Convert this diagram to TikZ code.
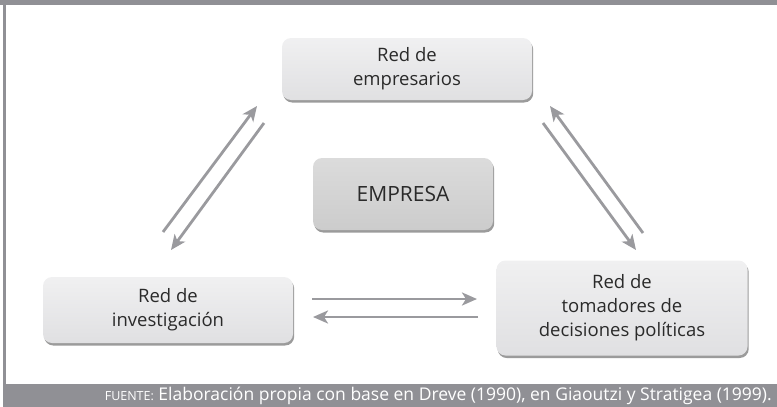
\documentclass[tikz,border=0pt]{standalone}
\usepackage{fontspec}
\setmainfont{Open Sans}
\usetikzlibrary{arrows.meta,shadows}
\definecolor{marco}{HTML}{909095}
\definecolor{flecha}{HTML}{9A9A9E}
\definecolor{cajaarriba}{HTML}{F0F0F1}
\definecolor{cajaabajo}{HTML}{E0E0E2}
\definecolor{texto}{HTML}{2A2A2A}

\begin{document}
\begin{tikzpicture}[x=1pt,y=-1pt,
    red/.style={rounded corners=9pt, top color=cajaarriba, bottom color=cajaabajo,
        drop shadow={shadow xshift=1.2pt, shadow yshift=-2.5pt, fill=black!60, opacity=0.65},
        align=center, text=texto, inner sep=0pt, font=\fontsize{18.5}{24}\selectfont},
    centro/.style={red, top color=black!14, bottom color=black!20, font=\fontsize{21}{21}\selectfont},
    flechas/.style={draw=flecha, line width=2.8pt, -{Stealth[length=15pt,width=13pt,inset=4pt]}}]
    \useasboundingbox (0,0) rectangle (777,407);
    % marco
    \fill[marco] (0,0) rectangle (777,5);
    \fill[marco] (3,5) rectangle (6,384);
    \fill[marco] (3,384) rectangle (777,407);
    % redes
    \node[red, minimum width=250pt, minimum height=62pt] (empresarios) at (407,69) {Red de\\empresarios};
    \node[centro, minimum width=180pt, minimum height=72pt] (empresa) at (403,194) {EMPRESA};
    \node[red, minimum width=250pt, minimum height=66pt] (investigacion) at (168,310) {Red de\\investigación};
    \node[red, minimum width=251pt, minimum height=95pt] (tomadores) at (622,308) {Red de\\tomadores de\\decisiones políticas};
    % extremos de las flechas
    \coordinate (i1) at (163,232); \coordinate (e1) at (257,106);
    \coordinate (e2) at (264,123); \coordinate (i2) at (171,250);
    \coordinate (t1) at (643,233); \coordinate (e3) at (550,106);
    \coordinate (e4) at (543,123); \coordinate (t2) at (636,250);
    \coordinate (i3) at (312,299); \coordinate (t3) at (477,299);
    \coordinate (t4) at (478,317); \coordinate (i4) at (313,317);
    \foreach \a/\b in {i1/e1, e2/i2, t1/e3, e4/t2, i3/t3, t4/i4}
        \draw[flechas] (\a) -- (\b);
    % fuente
    \node[anchor=east, text=white, inner sep=0pt, font=\fontsize{17.5}{17.5}\selectfont] (fuente) at (772,396)
        {{\fontsize{12.5}{12.5}\selectfont FUENTE:} Elaboración propia con base en Dreve (1990), en Giaoutzi y Stratigea (1999).};
\end{tikzpicture}
\end{document}
